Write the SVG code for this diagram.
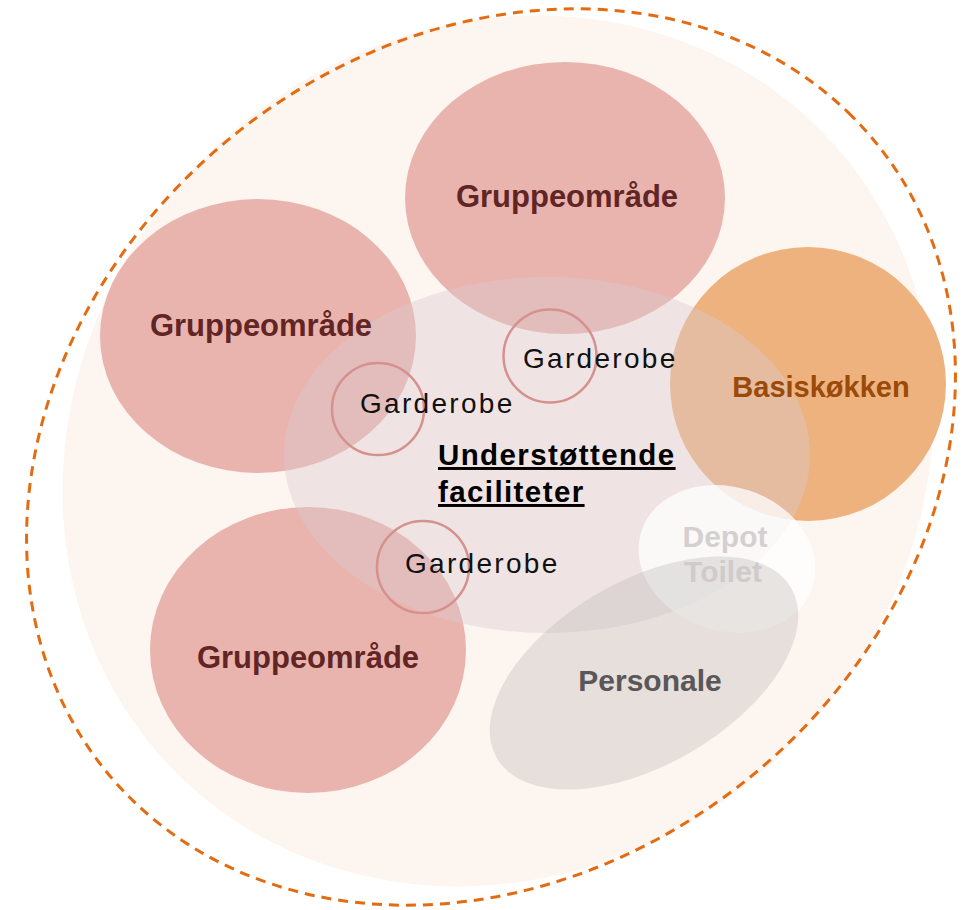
<svg xmlns="http://www.w3.org/2000/svg" width="963" height="910" viewBox="0 0 963 910">
<style>
.grp{fill:#EAB4AE}
.grpt{font-family:"Liberation Sans",Arial,sans-serif;font-weight:700;font-size:31px;fill:#622525;text-anchor:middle}
.gard{fill:none;stroke:#D5918E;stroke-width:2.5}
.gardt{font-family:"Liberation Sans",Arial,sans-serif;font-size:28px;letter-spacing:2.3px;fill:#111}
.bold{font-family:"Liberation Sans",Arial,sans-serif;font-weight:700}
</style>
<rect width="963" height="910" fill="#fff"/>
<g id="omraade">
<ellipse cx="0" cy="0" rx="455" ry="415" transform="translate(498,451) rotate(-45)" fill="#FDF5EF"/>
<ellipse cx="0" cy="0" rx="505" ry="420" transform="translate(491,457) scale(1,0.965) rotate(-45)" fill="none" stroke="#E36C12" stroke-width="3" stroke-dasharray="10 7" vector-effect="non-scaling-stroke"/>
</g>
<g id="gruppe-top"><ellipse class="grp" cx="565" cy="198" rx="160" ry="136"/></g>
<g id="gruppe-left"><ellipse class="grp" cx="258" cy="336" rx="158" ry="137"/></g>
<g id="gruppe-bottom"><ellipse class="grp" cx="308" cy="650" rx="158" ry="143"/></g>
<g id="basiskokken"><ellipse cx="808" cy="384" rx="138" ry="137" fill="#EEB27F"/></g>
<g id="understottende"><ellipse cx="547" cy="455" rx="263" ry="178" fill="#D9CAD3" fill-opacity="0.4"/></g>
<g id="garderobe-1"><circle class="gard" cx="550" cy="356" r="46.5"/><text class="gardt" x="523" y="368">Garderobe</text></g>
<g id="garderobe-2"><circle class="gard" cx="378" cy="409" r="46"/><text class="gardt" x="360" y="413">Garderobe</text></g>
<g id="garderobe-3"><circle class="gard" cx="423" cy="567" r="46"/><text class="gardt" x="405" y="573">Garderobe</text></g>
<g id="depot"><ellipse cx="0" cy="0" rx="90" ry="72" transform="translate(727,559) rotate(18)" fill="#FFFFFF" fill-opacity="0.75"/></g>
<g id="personale"><ellipse cx="0" cy="0" rx="170" ry="92" transform="translate(644,673) rotate(-30)" fill="#C4BFBF" fill-opacity="0.4"/></g>
<g id="labels">
<text class="grpt" x="567" y="207">Gruppeområde</text>
<text class="grpt" x="261" y="336">Gruppeområde</text>
<text class="grpt" x="308" y="668">Gruppeområde</text>
<text class="bold" x="821" y="397" font-size="29" fill="#9B4A0A" text-anchor="middle">Basiskøkken</text>
<text class="bold" x="438" y="465" font-size="29.5" letter-spacing="1.4" fill="#000" text-decoration="underline">Understøttende</text>
<text class="bold" x="438" y="502" font-size="29.5" letter-spacing="1.4" fill="#000" text-decoration="underline">faciliteter</text>
<text class="bold" x="725" y="547" font-size="30" fill="#D5D0D0" text-anchor="middle">Depot</text>
<text class="bold" x="723" y="582" font-size="30" fill="#D0CBCB" text-anchor="middle">Toilet</text>
<text class="bold" x="650" y="691" font-size="30" fill="#595757" text-anchor="middle">Personale</text>
</g>
</svg>
